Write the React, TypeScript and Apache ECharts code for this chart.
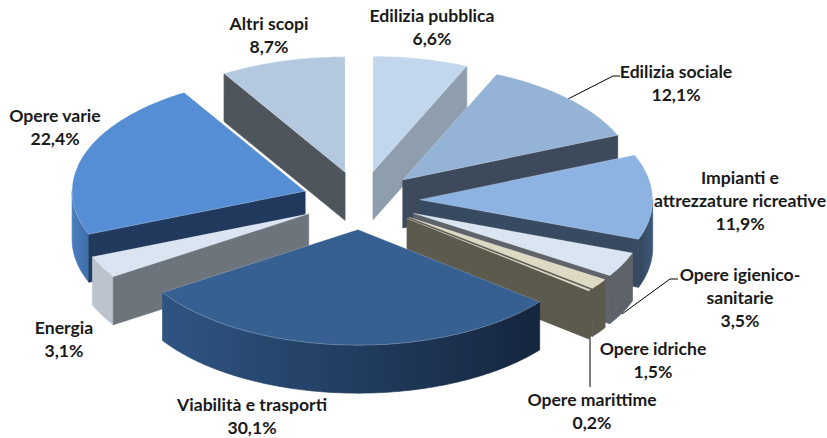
import React, { useEffect, useRef } from "react";
import * as echarts from "echarts";

const categories = ["Edilizia pubblica", "Edilizia sociale", "Impianti e attrezzature ricreative", "Opere igienico-sanitarie", "Opere idriche", "Opere marittime", "Viabilità e trasporti", "Energia", "Opere varie", "Altri scopi"];
const shares = [6.6, 12.1, 11.9, 3.5, 1.5, 0.2, 30.1, 3.1, 22.4, 8.7];
const shareLabels = ["6,6%", "12,1%", "11,9%", "3,5%", "1,5%", "0,2%", "30,1%", "3,1%", "22,4%", "8,7%"];

const topColors = ["#C3D7EC", "#95B3D7", "#8DB3E2", "#DBE5F1", "#DDD9C3", "#DDD9C3", "#366092", "#DBE5F1", "#558ED5", "#B4C9E0"];
const sideColors = ["#8E9EAF", "#3D4A5C", "#374A61", "#5E6369", "#5C594D", "#5C594D", "#2A4A70", "#6E747C", "#20395C", "#4F555C"];
const arcLeft = ["#8E9EAF", "#3D4A5C", "#34465D", "#5E6369", "#5C594D", "#5C594D", "#2F5482", "#BAC3CE", "#4A7EBE", "#4F555C"];
const arcRight = ["#8E9EAF", "#3D4A5C", "#3F5878", "#5E6369", "#5C594D", "#5C594D", "#15263E", "#BAC3CE", "#3F6EA8", "#4F555C"];
const paintOrder = [9, 0, 1, 8, 2, 7, 3, 4, 5, 6];

const labelLayout: { x: number; y: number; lines: string[] }[] = [
  { x: 432, y: 27, lines: ["Edilizia pubblica"] },
  { x: 676, y: 83, lines: ["Edilizia sociale"] },
  { x: 740, y: 200, lines: ["Impianti e", "attrezzature ricreative"] },
  { x: 740, y: 297, lines: ["Opere igienico-", "sanitarie"] },
  { x: 653, y: 360, lines: ["Opere idriche"] },
  { x: 592, y: 411, lines: ["Opere marittime"] },
  { x: 252, y: 415.5, lines: ["Viabilità e trasporti"] },
  { x: 64, y: 339, lines: ["Energia"] },
  { x: 55, y: 127, lines: ["Opere varie"] },
  { x: 269, y: 35, lines: ["Altri scopi"] },
];
const leaders = [
  [[568, 99], [613, 76], [620, 76]],
  [[622, 314], [670, 279], [678, 279]],
  [[590, 338], [590, 387]],
];

const CX = 360.9, CY = 200.4, RX = 233, RY = 115.6, DEPTH = 48, EXPLODE = 58.8;
const LINE_STEP = 23;
const total = shares.reduce((a, b) => a + b, 0);
const starts: number[] = [];
shares.reduce((acc, v, i) => { starts[i] = acc; return acc + (v / total) * 360; }, 0);
const rad = (d: number) => (d * Math.PI) / 180;

function renderItem(params: any, api: any) {
  const i = api.value(0) as number;
  const a0 = starts[i];
  const a1 = a0 + (api.value(1) / total) * 360;
  const mid = (a0 + a1) / 2;
  const ax = CX + EXPLODE * Math.sin(rad(mid));
  const ay = CY - EXPLODE * (RY / RX) * Math.cos(rad(mid));
  const pt = (d: number, dz = 0) => [ax + RX * Math.sin(rad(d)), ay - RY * Math.cos(rad(d)) + dz];
  const arc = (from: number, to: number, dz = 0) => {
    const out: number[][] = [];
    const n = Math.max(1, Math.ceil(to - from));
    for (let k = 0; k <= n; k++) out.push(pt(from + ((to - from) * k) / n, dz));
    return out;
  };
  const children: any[] = [];
  const poly = (points: number[][], fill: any, extra: any = {}) => ({ type: "polygon", shape: { points }, style: { fill, ...extra }, silent: true });
  // outer curved wall
  const w0 = Math.max(a0, 90), w1 = Math.min(a1, 270);
  if (w1 > w0) {
    const pts = [...arc(w0, w1), ...arc(w0, w1, DEPTH).reverse()];
    const fill = new echarts.graphic.LinearGradient(0, 0, 1, 0, [
      { offset: 0, color: arcLeft[i] },
      { offset: 1, color: arcRight[i] },
    ]);
    children.push(poly(pts, fill, { stroke: fill, lineWidth: 0.7 }));
  }
  // radial walls that face the viewer
  if (-Math.cos(rad(a1 + 90)) > 0.001) {
    const p = pt(a1);
    children.push(poly([[ax, ay], p, [p[0], p[1] + DEPTH], [ax, ay + DEPTH]], sideColors[i], { stroke: sideColors[i], lineWidth: 0.7 }));
  }
  if (-Math.cos(rad(a0 - 90)) > 0.001) {
    const p = pt(a0);
    children.push(poly([[ax, ay], p, [p[0], p[1] + DEPTH], [ax, ay + DEPTH]], sideColors[i], { stroke: sideColors[i], lineWidth: 0.7 }));
  }
  // top face
  children.push(poly([[ax, ay], ...arc(a0, a1)], topColors[i], { stroke: "rgba(255,255,255,0.35)", lineWidth: 0.6 }));
  return { type: "group", children };
}

const seriesData = paintOrder.map((i) => [i, shares[i]]);

export default function App() {
  const ref = useRef<HTMLDivElement>(null);
  useEffect(() => {
    const chart = echarts.init(ref.current!, undefined, { renderer: "svg" });
    const labels = categories.flatMap((_, i) => {
      const l = labelLayout[i];
      const rows = [...l.lines, shareLabels[i]];
      return rows.map((text, k) => ({
        type: "text",
        x: l.x,
        y: l.y + (k - (rows.length - 1) / 2) * LINE_STEP,
        silent: true,
        style: {
          text,
          fill: "#1a1a1a",
          font: "bold 17.6px Lato, 'Open Sans', sans-serif",
          lineHeight: 18,
          align: "center",
          verticalAlign: "middle",
        },
      }));
    });
    const lines = leaders.map((p) => ({
      type: "polyline",
      silent: true,
      shape: { points: p },
      style: { stroke: "#000", lineWidth: 1, fill: "none" },
    }));
    chart.setOption({
      animation: false,
      backgroundColor: "#fff",
      series: [{ type: "custom", coordinateSystem: "none", renderItem, data: seriesData, silent: true, clip: false }],
      graphic: [...lines, ...labels],
    });
    return () => chart.dispose();
  }, []);
  return <div ref={ref} style={{ position: "fixed", left: 0, top: 0, width: 827, height: 438 }} />;
}
